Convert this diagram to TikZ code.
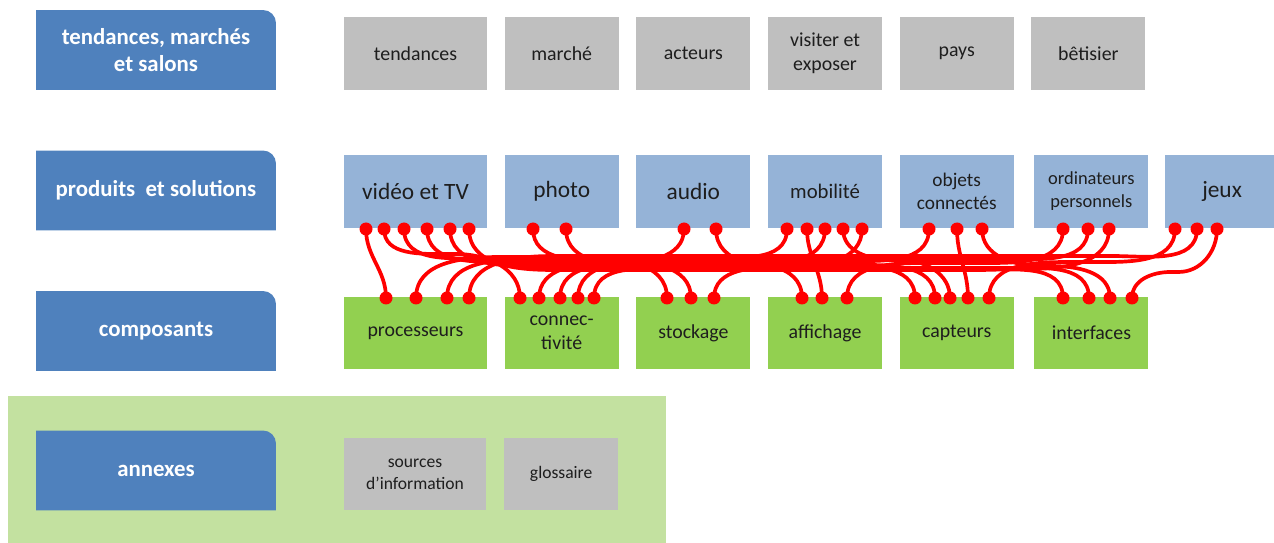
\documentclass[tikz,border=0pt]{standalone}
\usepackage{fontspec}
\setmainfont{Carlito}
\usetikzlibrary{positioning}
\definecolor{hdrblue}{HTML}{4F81BD}
\definecolor{prodblue}{HTML}{95B3D7}
\definecolor{topgray}{HTML}{BFBFBF}
\definecolor{compgreen}{HTML}{92D050}
\definecolor{annexbg}{HTML}{C3E1A0}
\definecolor{wirered}{HTML}{FF0000}
\definecolor{ink}{HTML}{1E1E1E}

\begin{document}
\begin{tikzpicture}[
  x=0.02cm, y=-0.02cm,
  node distance=0.34cm,
  every node/.style={text=ink, align=center, inner sep=2pt},
  hdr/.style={minimum width=4.8cm, minimum height=1.6cm, text=white,
              font=\fontsize{13}{15.5}\selectfont\bfseries,
              path picture={\fill[hdrblue] (path picture bounding box.south west)
                -- (path picture bounding box.north west)
                [rounded corners=0.26cm] -- (path picture bounding box.north east)
                [sharp corners] -- (path picture bounding box.south east) -- cycle;}},
  cell/.style={minimum width=2.28cm, minimum height=1.46cm,
               font=\fontsize{11.3}{13.5}\selectfont},
  wide/.style={cell, minimum width=2.86cm},
  grey/.style={fill=topgray},
  prod/.style={fill=prodblue},
  comp/.style={fill=compgreen},
  dot/.style={circle, fill=wirered, minimum size=0.26cm, inner sep=0pt},
  wire/.style={draw=wirered, line width=2.1pt, line cap=round}
]
\useasboundingbox (0,0) rectangle (1274,543);
\fill[annexbg] (8,396) rectangle (666,543);

% headers
\node[hdr] (hdtrend) at (156,50) {tendances, marchés\\et salons};
\node[hdr] (hdprod) at (156,190.5) {produits~~et solutions};
\node[hdr] (hdcomp) at (156,331) {composants};
\node[hdr] (hdannex) at (156,470.5) {annexes};

% tendances
\node[wide, grey] (tend) at (415.5,53.5) {tendances};
\node[cell, grey, right=of tend] (market) {marché};
\node[cell, grey, right=of market] (actors) {acteurs};
\node[cell, grey, right=of actors] (visit) {visiter et\\exposer};
\node[cell, grey, right=of visit] (country) {pays};
\node[cell, grey, right=of country] (blooper) {bêtisier};

% produits
\node[wide, prod, font=\fontsize{13.3}{16}\selectfont] (video) at (415.5,191.5) {vidéo et TV};
\node[cell, prod, font=\fontsize{13.3}{16}\selectfont, right=of video] (photo) {photo};
\node[cell, prod, font=\fontsize{13.3}{16}\selectfont, right=of photo] (audio) {audio};
\node[cell, prod, font=\fontsize{11.8}{14}\selectfont, right=of audio] (mobile) {mobilité};
\node[cell, prod, font=\fontsize{11}{13.5}\selectfont, right=of mobile] (iot) {objets\\connectés};
\node[cell, prod, font=\fontsize{10.5}{13}\selectfont, right=of iot, xshift=0.06cm] (pc) {ordinateurs\\personnels};
\node[cell, prod, font=\fontsize{13.3}{16}\selectfont, right=of pc, xshift=-0.02cm] (games) {jeux};

% composants
\node[wide, comp] (cpu) at (415.5,333) {processeurs};
\node[cell, comp, right=of cpu] (link) {connec-\\tivité};
\node[cell, comp, right=of link] (storage) {stockage};
\node[cell, comp, right=of storage] (display) {affichage};
\node[cell, comp, right=of display] (sensor) {capteurs};
\node[cell, comp, right=of sensor, xshift=0.06cm] (iface) {interfaces};

% annexes
\node[wide, grey, font=\fontsize{10}{12.5}\selectfont] (sources) at (415,474) {sources\\d’information};
\node[cell, grey, font=\fontsize{10}{12.5}\selectfont, right=of sources] (gloss) {glossaire};

% wires product -> component
\foreach \a/\b/\y [count=\i] in {384/520/254, 404/667/258, 427/802/262, 450/915/266,
    469/1063/270, 533/691/261, 566/935/265, 684/539/263, 716/1089/268, 787/416/257,
    825/560/264, 843/950/260, 862/714/267, 929/578/261, 982/1110/266, 1063/847/263,
    1088/447/259, 1109/594/269, 1175/989/262, 1197/469/256, 1217/1132/272} {
  \pgfmathsetmacro\s{sign(\b-\a)}
  \pgfmathsetmacro\ia{90+90*\s}
  \pgfmathsetmacro\ob{90-90*\s}
  \pgfmathsetmacro\dx{min(85,abs(\b-\a)/2-4)}
  \node[dot] (t\i) at (\a,229) {};
  \node[dot] (b\i) at (\b,298) {};
  \draw[wire] (t\i.center) to[out=-90,in=\ia] ({\a+\dx*\s},\y)
    -- ({\b-\dx*\s},\y) to[out=\ob,in=90] (b\i.center);
}
\foreach \a/\b [count=\i] in {366/386, 807/822, 957/968} {
  \node[dot] (ts\i) at (\a,229) {};
  \node[dot] (bs\i) at (\b,298) {};
  \draw[wire] (ts\i.center) to[out=-90,in=90] (bs\i.center);
}
\end{tikzpicture}
\end{document}
